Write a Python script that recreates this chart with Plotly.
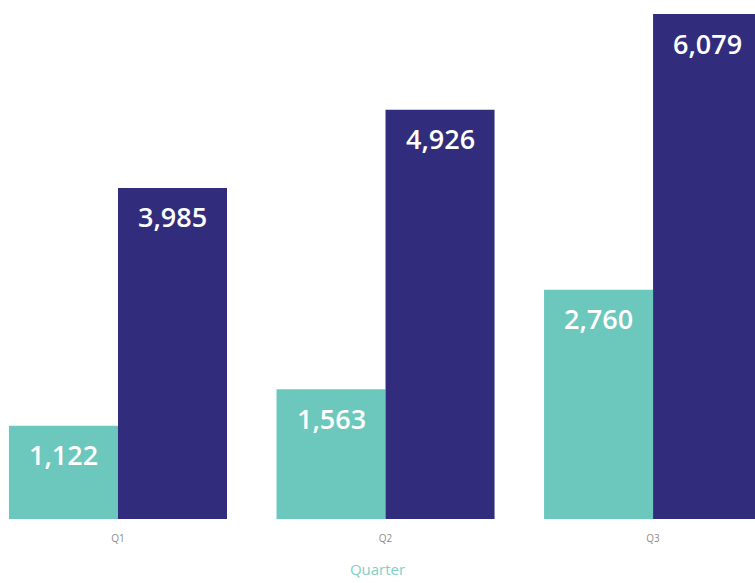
import plotly.graph_objects as go

# Quarterly figures for the two series
quarters = ["Q1", "Q2", "Q3"]
series_a = [1122, 1563, 2760]
series_b = [3985, 4926, 6079]

teal = "#6CC8BC"
navy = "#322C7C"
bargap = 0.185

fig = go.Figure()
fig.add_trace(go.Bar(x=quarters, y=series_a, marker=dict(color=teal, line=dict(width=0)), name="A"))
fig.add_trace(go.Bar(x=quarters, y=series_b, marker=dict(color=navy, line=dict(width=0)), name="B"))

# value labels sit inside each bar, a little below its top
half = (1 - bargap) / 4
for i, (a, b) in enumerate(zip(series_a, series_b)):
    for off, v in ((-half, a), (half, b)):
        fig.add_annotation(
            x=i + off, y=v, xref="x", yref="y",
            text=f"{v:,}", showarrow=False,
            yanchor="middle", yshift=-29,
            font=dict(family="Open Sans", size=27, color="white", weight=600),
        )

fig.update_layout(
    width=755, height=583,
    margin=dict(l=0, r=0, t=0, b=64),
    paper_bgcolor="white", plot_bgcolor="white",
    barmode="group", bargap=bargap, bargroupgap=0,
    showlegend=False,
    xaxis=dict(
        type="category", range=[-0.441, 2.381],
        showgrid=False, zeroline=False, showline=False, ticks="",
        tickfont=dict(family="Open Sans", size=10, color="#8C8C8C"),
        ticklabelstandoff=12,
        title=dict(text="Quarter", standoff=20,
                   font=dict(family="Open Sans", size=15, color="#7FD0C4")),
        automargin=False,
    ),
    yaxis=dict(
        range=[0, 6247.6], visible=False, showgrid=False, zeroline=False,
    ),
)

fig.write_html("out.html")
